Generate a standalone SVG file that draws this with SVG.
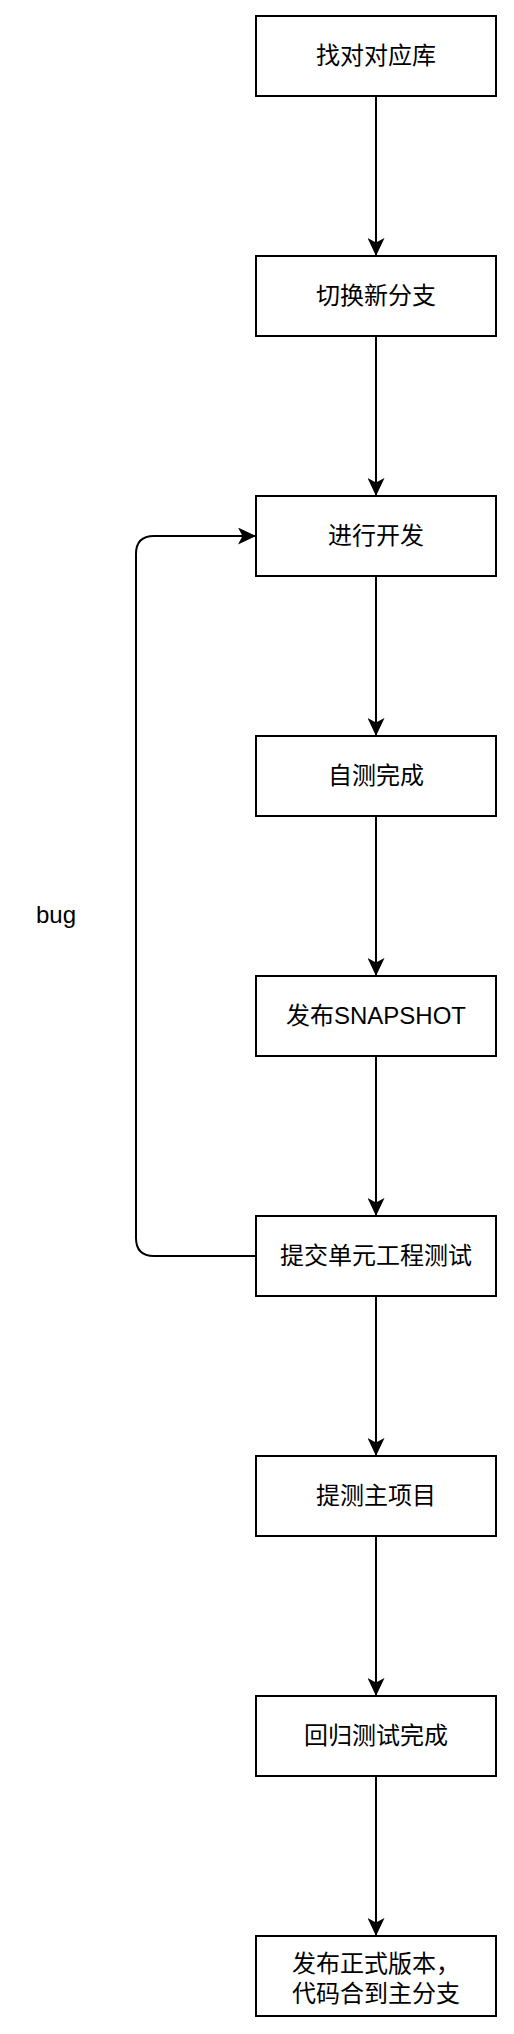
<svg xmlns="http://www.w3.org/2000/svg" width="514" height="2034" viewBox="0 0 514 2034">
<style>
.box{fill:#ffffff;stroke:#000000;stroke-width:2}
.lbl{font-family:"Liberation Sans","Noto Sans CJK SC",sans-serif;font-size:24px;fill:#000000;text-anchor:middle}
.edge{fill:none;stroke:#000000;stroke-width:2}
</style>
<defs>
<marker id="arr" markerUnits="userSpaceOnUse" markerWidth="18" markerHeight="17" viewBox="0 0 18 17" refX="18" refY="8.5" orient="auto">
<path d="M18,8.5 L0,0 L4.5,8.5 L0,17 Z" fill="#000000"/>
</marker>
</defs>
<rect width="514" height="2034" fill="#ffffff"/>
<g id="connectors">
<path class="edge" d="M376,96 L376,256" marker-end="url(#arr)"/>
<path class="edge" d="M376,336 L376,496" marker-end="url(#arr)"/>
<path class="edge" d="M376,576 L376,736" marker-end="url(#arr)"/>
<path class="edge" d="M376,816 L376,976" marker-end="url(#arr)"/>
<path class="edge" d="M376,1056 L376,1216" marker-end="url(#arr)"/>
<path class="edge" d="M376,1296 L376,1456" marker-end="url(#arr)"/>
<path class="edge" d="M376,1536 L376,1696" marker-end="url(#arr)"/>
<path class="edge" d="M376,1776 L376,1936" marker-end="url(#arr)"/>
<path class="edge" d="M256,1256 L154,1256 Q136,1256 136,1238 L136,554 Q136,536 154,536 L256,536" marker-end="url(#arr)"/>
<text class="lbl" x="56" y="923">bug</text>
</g>
<g id="n1"><rect class="box" x="256" y="16" width="240" height="80"/><text class="lbl" x="376" y="64">找对对应库</text></g>
<g id="n2"><rect class="box" x="256" y="256" width="240" height="80"/><text class="lbl" x="376" y="304">切换新分支</text></g>
<g id="n3"><rect class="box" x="256" y="496" width="240" height="80"/><text class="lbl" x="376" y="544">进行开发</text></g>
<g id="n4"><rect class="box" x="256" y="736" width="240" height="80"/><text class="lbl" x="376" y="784">自测完成</text></g>
<g id="n5"><rect class="box" x="256" y="976" width="240" height="80"/><text class="lbl" x="376" y="1024">发布SNAPSHOT</text></g>
<g id="n6"><rect class="box" x="256" y="1216" width="240" height="80"/><text class="lbl" x="376" y="1264">提交单元工程测试</text></g>
<g id="n7"><rect class="box" x="256" y="1456" width="240" height="80"/><text class="lbl" x="376" y="1504">提测主项目</text></g>
<g id="n8"><rect class="box" x="256" y="1696" width="240" height="80"/><text class="lbl" x="376" y="1744">回归测试完成</text></g>
<g id="n9"><rect class="box" x="256" y="1936" width="240" height="80"/><text class="lbl" x="376" y="1972"><tspan x="376">发布正式版本，</tspan><tspan x="376" dy="30">代码合到主分支</tspan></text></g>
</svg>
